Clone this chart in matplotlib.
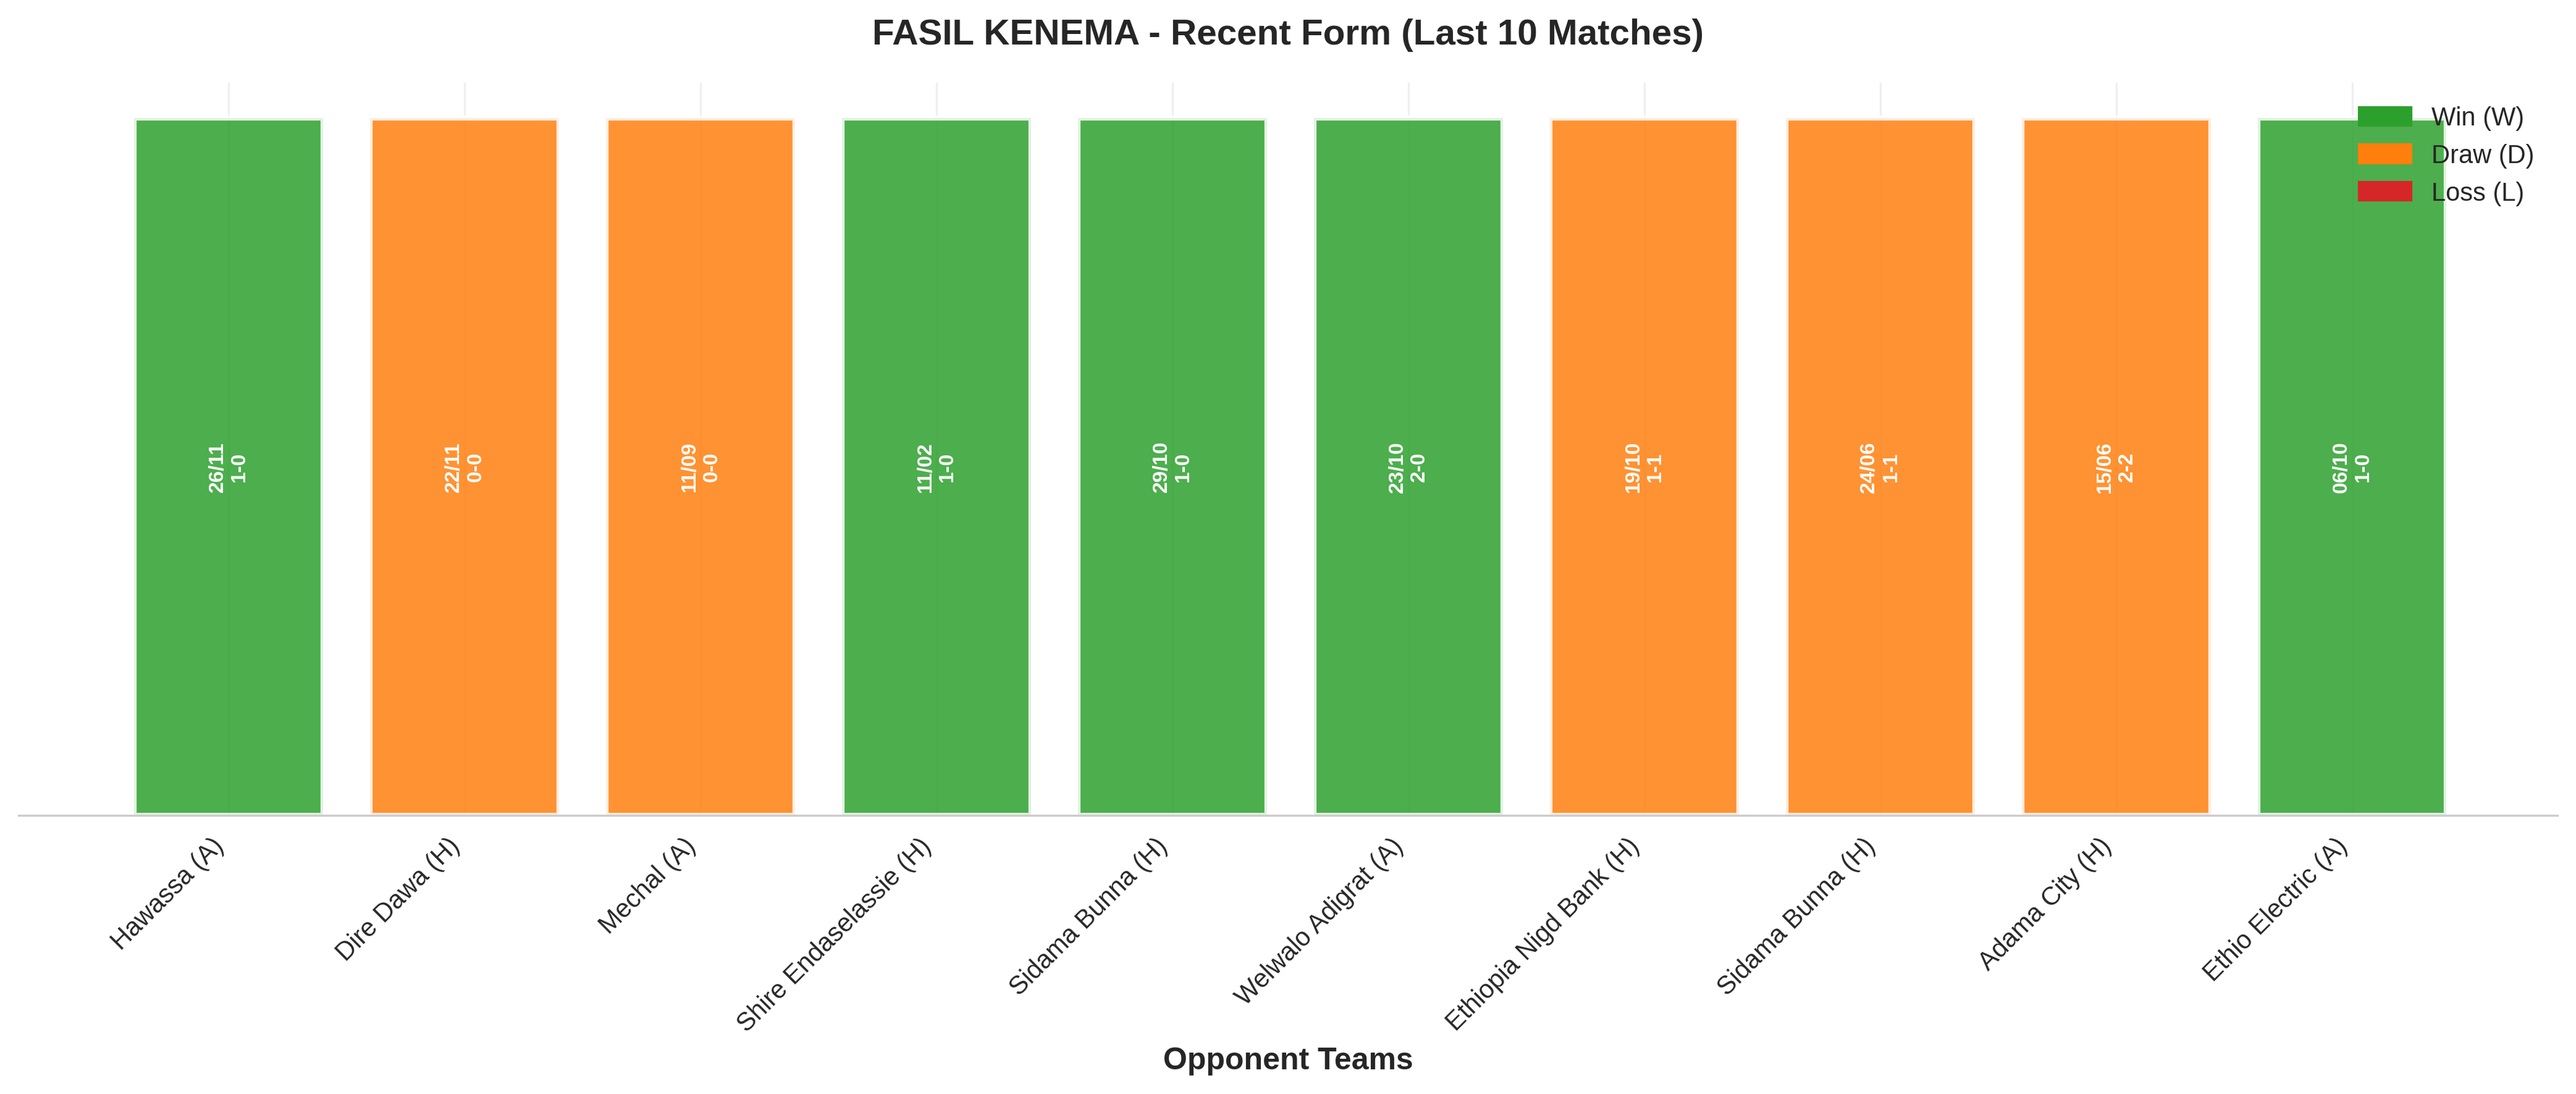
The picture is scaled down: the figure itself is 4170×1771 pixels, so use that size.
import matplotlib
matplotlib.use("Agg")
import matplotlib.pyplot as plt
import seaborn as sns
from matplotlib.patches import Patch

sns.set_style("whitegrid")
plt.rcParams['font.family'] = ['Liberation Sans', 'DejaVu Sans']

opponents = ["Hawassa (A)", "Dire Dawa (H)", "Mechal (A)", "Shire Endaselassie (H)",
             "Sidama Bunna (H)", "Welwalo Adigrat (A)", "Ethiopia Nigd Bank (H)",
             "Sidama Bunna (H)", "Adama City (H)", "Ethio Electric (A)"]
results = ["W", "D", "D", "W", "W", "W", "D", "D", "D", "W"]
dates = ["26/11", "22/11", "11/09", "11/02", "29/10", "23/10", "19/10", "24/06", "15/06", "06/10"]
scores = ["1-0", "0-0", "0-0", "1-0", "1-0", "2-0", "1-1", "1-1", "2-2", "1-0"]
heights = [1] * 10

colors = {"W": "#2ca02c", "D": "#ff7f0e", "L": "#d62728"}

fig, ax = plt.subplots(figsize=(14, 6))
x = list(range(len(opponents)))
ax.bar(x, heights, color=[colors[r] for r in results], alpha=0.85,
       edgecolor="white", linewidth=2, width=0.8)
for i in x:
    ax.text(i, 0.5, f"{dates[i]}\n{scores[i]}", rotation=90, ha="center", va="center",
            color="white", fontweight="bold", fontsize=8)
ax.set_xticks(x)
ax.set_xticklabels(opponents, rotation=45, ha="right", fontsize=10)
ax.set_yticks([])
ax.set_ylim(0, 1.05)
ax.set_xlim(-0.89, 9.87)
ax.set_xlabel("Opponent Teams", fontsize=12, fontweight="bold")
ax.set_title("FASIL KENEMA - Recent Form (Last 10 Matches)", fontsize=14, fontweight="bold", pad=15)
for s in ["top", "right", "left"]:
    ax.spines[s].set_visible(False)
ax.spines["bottom"].set_color("#cccccc")
ax.grid(axis="x", alpha=0.3)
ax.legend(handles=[Patch(color=colors["W"], label="Win (W)"),
                   Patch(color=colors["D"], label="Draw (D)"),
                   Patch(color=colors["L"], label="Loss (L)")],
          loc="upper right", frameon=False, fontsize=10)
plt.tight_layout()
plt.savefig("out.png", dpi=300, bbox_inches="tight")
